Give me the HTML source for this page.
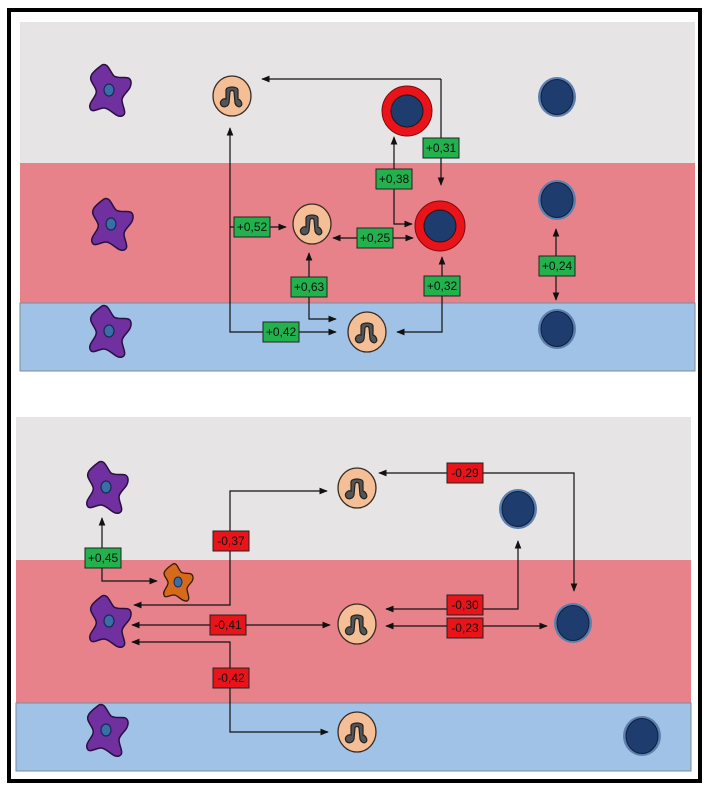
<!DOCTYPE html><html><head><style>body{margin:0;background:#fff}svg{display:block}text{font-family:"Liberation Sans",sans-serif;font-size:12px;}</style></head><body>
<svg width="709" height="788" viewBox="0 0 709 788" xmlns="http://www.w3.org/2000/svg">
<defs>
<marker id="a" viewBox="0 0 10 10" refX="9" refY="5" markerWidth="7" markerHeight="7" orient="auto-start-reverse"><path d="M0,1 L10,5 L0,9z" fill="#111"/></marker>
<g id="star"><path d="M-8,-25 C-2,-28 0,-18 4,-14 C10,-10 20,-16 21,-8 C22,0 12,4 12,10 C12,16 18,24 12,26 C6,28 0,18 -6,18 C-12,18 -18,24 -20,18 C-22,12 -12,6 -14,0 C-16,-6 -22,-10 -18,-16 C-15,-20 -12,-22 -8,-25z" fill="#7030a0" stroke="#2a1040" stroke-width="1.5"/><ellipse cx="-1" cy="0" rx="5" ry="6" fill="#3a6ea8" stroke="#1a2a50" stroke-width="1.2"/></g>
<g id="ostar"><path d="M-5,-18 C-1,-20 0,-13 3,-10 C7,-7 14,-11 15,-5 C16,0 9,3 9,7 C9,11 13,17 9,19 C4,20 0,13 -4,13 C-9,13 -13,17 -14,13 C-16,9 -9,4 -10,0 C-11,-4 -16,-7 -13,-11 C-11,-14 -8,-16 -5,-18z" fill="#d46a1a" stroke="#3a1a00" stroke-width="1.3"/><ellipse cx="0" cy="0" rx="4" ry="5" fill="#3a6ea8" stroke="#1a2a50"/></g>
<g id="oc"><ellipse cx="0" cy="0" rx="19" ry="20" fill="#f4bf96" stroke="#3a2a20" stroke-width="1.3"/><path d="M-11,9 C-13,5 -9,2 -6,3 L-6,-6 C-6,-10 6,-10 6,-6 L6,3 C9,4 11,8 9,10 C7,12 4,10 3,7 L2,-4 C2,-6 -2,-6 -2,-4 L-3,7 C-4,11 -9,12 -11,9z" fill="#555" stroke="#222" stroke-width="1.2"/></g>
<g id="rc"><circle r="25" fill="#e8141a" stroke="#7a0a0a"/><circle r="16" fill="#1f3c6e" stroke="#2a1010"/></g>
<g id="bc"><ellipse rx="19" ry="20" fill="#5a7fb0"/><ellipse rx="16" ry="17.5" fill="#1f3c6e" stroke="#10203a"/></g>
</defs>
<rect x="9" y="10" width="691" height="771" fill="#fff" stroke="#000" stroke-width="4"/>
<rect x="20" y="22" width="675" height="141" fill="#e6e4e4"/>
<rect x="20" y="163" width="675" height="140" fill="#e8828a"/>
<rect x="20" y="303" width="675" height="68" fill="#9fc2e6" stroke="#7a8aa0" stroke-width="1"/>
<rect x="16" y="417" width="675" height="143" fill="#e6e4e4"/>
<rect x="16" y="560" width="675" height="143" fill="#e8828a"/>
<rect x="16" y="703" width="675" height="68" fill="#9fc2e6" stroke="#7a8aa0" stroke-width="1"/>
<g stroke="#111" stroke-width="1.2" fill="none">
<path d="M441,79 H262" marker-end="url(#a)"/><path d="M441,79 V185" marker-end="url(#a)"/>
<path d="M336,332 H230 V128" marker-start="url(#a)" marker-end="url(#a)"/>
<path d="M230,227 H286" marker-end="url(#a)"/>
<path d="M336,319 H309 V253" marker-start="url(#a)" marker-end="url(#a)"/>
<path d="M412,224 H394 V137" marker-start="url(#a)" marker-end="url(#a)"/>
<path d="M333,238 H413" marker-start="url(#a)" marker-end="url(#a)"/>
<path d="M397,332 H442 V257" marker-start="url(#a)" marker-end="url(#a)"/>
<path d="M556,229 V300" marker-start="url(#a)" marker-end="url(#a)"/>
<path d="M102,518 V581 H157" marker-start="url(#a)" marker-end="url(#a)"/>
<path d="M327,491 H230 V605 H134" marker-start="url(#a)" marker-end="url(#a)"/>
<path d="M132,625 H330" marker-start="url(#a)" marker-end="url(#a)"/>
<path d="M132,642 H230 V732 H328" marker-start="url(#a)" marker-end="url(#a)"/>
<path d="M379,473 H574 V591" marker-start="url(#a)" marker-end="url(#a)"/>
<path d="M386,609 H518 V541" marker-start="url(#a)" marker-end="url(#a)"/>
<path d="M386,626 H547" marker-start="url(#a)" marker-end="url(#a)"/>
</g>
<use href="#star" x="110" y="90"/><use href="#star" x="112" y="224"/><use href="#star" x="110" y="331"/>
<use href="#oc" x="232" y="96"/><use href="#oc" x="312" y="224"/><use href="#oc" x="367" y="332"/>
<use href="#rc" x="407" y="111"/><use href="#rc" x="440" y="226"/>
<use href="#bc" x="557" y="97"/><use href="#bc" x="557" y="200"/><use href="#bc" x="557" y="329"/>
<use href="#star" x="107" y="487"/><use href="#ostar" x="178" y="582"/><use href="#star" x="110" y="621"/><use href="#star" x="107" y="730"/>
<use href="#oc" x="357" y="488"/><use href="#oc" x="357" y="624"/><use href="#oc" x="357" y="732"/>
<use href="#bc" x="518" y="509"/><use href="#bc" x="573" y="623"/><use href="#bc" x="642" y="736"/>
<g stroke="#222" stroke-width="1">
<g fill="#22b14c">
<rect x="423" y="138" width="36" height="20"/><rect x="376" y="169" width="36" height="20"/><rect x="234" y="217" width="36" height="20"/><rect x="357" y="228" width="36" height="20"/><rect x="291" y="277" width="36" height="20"/><rect x="424" y="276" width="36" height="20"/><rect x="539" y="256" width="36" height="20"/><rect x="263" y="322" width="36" height="20"/><rect x="85" y="548" width="36" height="20"/>
</g>
<g fill="#e8141a">
<rect x="213" y="531" width="36" height="20"/><rect x="210" y="615" width="36" height="20"/><rect x="213" y="668" width="36" height="20"/><rect x="447" y="463" width="36" height="20"/><rect x="447" y="595" width="36" height="20"/><rect x="447" y="618" width="36" height="20"/>
</g></g>
<g text-anchor="middle" fill="#111">
<text x="441" y="152">+0,31</text><text x="394" y="183">+0,38</text><text x="252" y="231">+0,52</text><text x="375" y="242">+0,25</text><text x="309" y="291">+0,63</text><text x="442" y="290">+0,32</text><text x="557" y="270">+0,24</text><text x="281" y="336">+0,42</text><text x="103" y="562">+0,45</text>
<text x="231" y="545">-0,37</text><text x="228" y="629">-0,41</text><text x="231" y="682">-0,42</text><text x="465" y="477">-0,29</text><text x="465" y="609">-0,30</text><text x="465" y="632">-0,23</text>
</g>
</svg></body></html>
